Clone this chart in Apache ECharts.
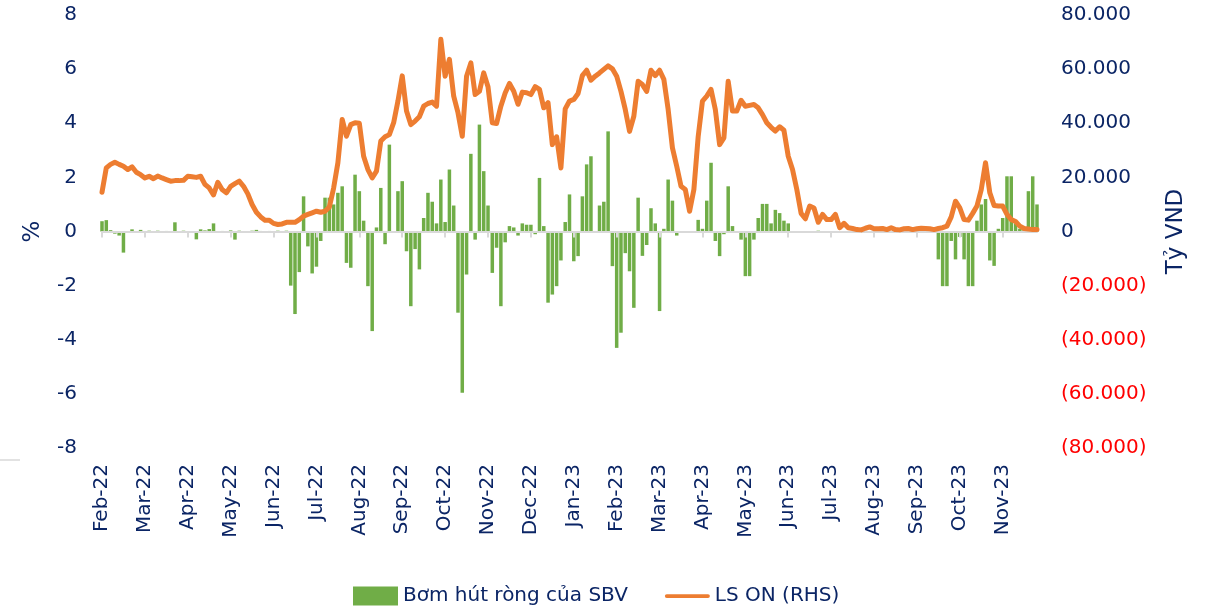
<!DOCTYPE html>
<html>
<head>
<meta charset="utf-8">
<script src="https://cdn.jsdelivr.net/npm/echarts@6/dist/echarts.min.js"></script>
<style>
  html, body { margin: 0; padding: 0; background: #ffffff; }
  #chart { width: 1209px; height: 611px; }
</style>
</head>
<body>
<div id="chart"></div>
<script>
// Month tick labels; each month holds 10 observation slots on the category axis
const months = ['Feb-22', 'Mar-22', 'Apr-22', 'May-22', 'Jun-22', 'Jul-22', 'Aug-22', 'Sep-22', 'Oct-22', 'Nov-22', 'Dec-22',
                'Jan-23', 'Feb-23', 'Mar-23', 'Apr-23', 'May-23', 'Jun-23', 'Jul-23', 'Aug-23', 'Sep-23', 'Oct-23', 'Nov-23'];
const slotsPerMonth = 10;

// Overnight interbank rate, %
const lsOn = [
  1.45, 2.35, 2.48, 2.56, 2.48, 2.41, 2.29, 2.39, 2.19, 2.10,
  1.98, 2.04, 1.95, 2.05, 1.98, 1.92, 1.86, 1.88, 1.88, 1.89,
  2.04, 2.02, 2.00, 2.04, 1.74, 1.61, 1.35, 1.82, 1.55, 1.43,
  1.67, 1.77, 1.86, 1.67, 1.39, 1.00, 0.71, 0.54, 0.42, 0.42,
  0.30, 0.26, 0.28, 0.34, 0.34, 0.34, 0.44, 0.57, 0.63, 0.69,
  0.75, 0.71, 0.75, 0.90, 1.60, 2.54, 4.14, 3.52, 3.95, 4.02,
  4.00, 2.78, 2.29, 1.98, 2.23, 3.34, 3.50, 3.58, 4.02, 4.82,
  5.75, 4.45, 3.95, 4.08, 4.24, 4.63, 4.73, 4.78, 4.63, 7.10,
  5.74, 6.36, 5.00, 4.39, 3.52, 5.74, 6.23, 5.06, 5.18, 5.86,
  5.35, 4.02, 3.99, 4.63, 5.12, 5.47, 5.18, 4.70, 5.15, 5.13,
  5.06, 5.35, 5.25, 4.57, 4.76, 3.21, 3.50, 2.35, 4.53, 4.82,
  4.88, 5.10, 5.76, 5.96, 5.59, 5.74, 5.86, 5.99, 6.12, 6.01,
  5.74, 5.18, 4.51, 3.70, 4.26, 5.55, 5.43, 5.18, 5.96, 5.76,
  5.96, 5.62, 4.51, 3.09, 2.41, 1.67, 1.55, 0.75, 1.55, 3.50,
  4.82, 5.00, 5.25, 4.51, 3.21, 3.46, 5.55, 4.45, 4.45, 4.85,
  4.63, 4.66, 4.69, 4.57, 4.32, 4.02, 3.85, 3.71, 3.87, 3.74,
  2.78, 2.29, 1.55, 0.67, 0.47, 0.94, 0.87, 0.34, 0.63, 0.44,
  0.44, 0.63, 0.14, 0.30, 0.14, 0.11, 0.07, 0.06, 0.12, 0.17,
  0.10, 0.10, 0.11, 0.07, 0.14, 0.07, 0.06, 0.10, 0.11, 0.07,
  0.10, 0.12, 0.11, 0.10, 0.07, 0.11, 0.14, 0.20, 0.54, 1.12,
  0.87, 0.44, 0.42, 0.67, 0.94, 1.55, 2.54, 1.43, 0.96, 0.94,
  0.94, 0.63, 0.44, 0.37, 0.20, 0.11, 0.09, 0.07, 0.07
];

// Net injection (+) / withdrawal (-) by the SBV, billion VND
const netInjection = [
  3800, 4200, 500, -800, -1500, -7800, -500, 800, 0, 600,
  -400, 300, 0, 300, -500, 200, 0, 3400, 0, 300,
  -300, -300, -2900, 800, 400, 900, 3000, 0, 200, -300,
  400, -3000, 300, 0, -200, 300, 600, 200, -300, 200,
  0, 300, -200, 300, -20000, -30500, -15000, 13000, -5500, -15500,
  -13000, -3500, 12500, 12500, 10000, 14300, 16700, -11600, -13400, 21000,
  14900, 4000, -20200, -36800, 1500, 16100, -4700, 32100, 0, 14900,
  18600, -7300, -27600, -6500, -14000, 5000, 14300, 11000, 3000, 19200,
  3500, 22900, 9600, -30000, -59600, -15900, 28700, -3000, 39500, 22300,
  9600, -15300, -6000, -27600, -4000, 2000, 1500, -1500, 3000, 2500,
  2500, -1000, 19800, 2000, -26300, -23300, -20200, -10700, 3500, 13700,
  -11000, -9100, 13000, 24800, 27800, 0, 9600, 11000, 37000, -12800,
  -43000, -37400, -8000, -14700, -28200, 12500, -9000, -5000, 8600, 3000,
  -29400, 1000, 19200, 11400, -1500, 0, 0, 0, 0, 4300,
  1000, 11400, 25400, -3500, -9100, -1000, 16700, 2000, 0, -3000,
  -16500, -16500, -3000, 5000, 10200, 10200, 3000, 8000, 6800, 4000,
  3000, 0, 0, 0, 0, 0, 0, 300, 0, 0,
  0, 0, 0, 0, 0, 0, 0, 0, 0, 0,
  0, 0, 0, 0, 0, 0, 0, 0, 0, 0,
  0, 0, 0, 0, 0, -10300, -20200, -20200, -3500, -10300,
  -2000, -10300, -20200, -20200, 4000, 10000, 12000, -10700, -12700, 1000,
  5000, 20400, 20400, 3000, 1000, 1000, 14900, 20400, 10000
];

const categories = lsOn.map((_, i) => {
  const m = Math.floor(i / slotsPerMonth);
  const k = i % slotsPerMonth;
  return k === 0 ? months[m] : months[m] + ' #' + (k + 1);
});

const NAVY = '#0B2565';
const FONT = 'DejaVu Sans';
const isMonthStart = (idx) => idx % slotsPerMonth === 0;

function fmtThousands(v) {
  return Math.abs(v).toString().replace(/\B(?=(\d{3})+(?!\d))/g, '.');
}

const chart = echarts.init(document.getElementById('chart'), null, { renderer: 'canvas' });

chart.setOption({
  backgroundColor: '#ffffff',
  animation: false,
  textStyle: { fontFamily: FONT },
  grid: { left: 102, right: 172, top: 15, bottom: 163, containLabel: false, outerBoundsMode: 'none' },
  legend: {
    left: 348,
    top: 581,
    itemWidth: 45,
    itemHeight: 19,
    itemGap: 37,
    textStyle: { fontFamily: FONT, fontSize: 20, color: NAVY },
    data: [
      { name: 'Bơm hút ròng của SBV', icon: 'rect' },
      { name: 'LS ON (RHS)', icon: 'path://M2,0 L46,0 A2,2 0 0 1 46,4 L2,4 A2,2 0 0 1 2,0 Z' }
    ]
  },
  xAxis: [
    {
      // zero line with monthly ticks
      type: 'category',
      data: categories,
      boundaryGap: false,
      position: 'bottom',
      z: 3,
      axisLine: { show: true, onZero: true, lineStyle: { color: '#D9D9D9', width: 2 } },
      axisTick: { show: true, interval: (idx) => isMonthStart(idx), length: 6, lineStyle: { color: '#D9D9D9', width: 2 } },
      axisLabel: { show: false },
      splitLine: { show: false }
    },
    {
      // month labels along the bottom edge
      type: 'category',
      data: categories,
      boundaryGap: false,
      position: 'bottom',
      axisLine: { show: false, onZero: false },
      axisTick: { show: false },
      splitLine: { show: false },
      axisLabel: {
        show: true,
        rotate: 90,
        margin: 16,
        interval: (idx) => isMonthStart(idx),
        fontFamily: FONT,
        fontSize: 20,
        color: NAVY
      }
    }
  ],
  yAxis: [
    {
      type: 'value',
      min: -8,
      max: 8,
      interval: 2,
      position: 'left',
      name: '%',
      nameLocation: 'middle',
      nameRotate: 90,
      nameGap: 57,
      nameMoveOverlap: false,
      nameTextStyle: { fontFamily: FONT, fontSize: 23, color: NAVY },
      axisLine: { show: false },
      axisTick: { show: false },
      splitLine: { show: false },
      axisLabel: { margin: 25, fontFamily: FONT, fontSize: 20, color: NAVY }
    },
    {
      type: 'value',
      min: -80000,
      max: 80000,
      interval: 20000,
      position: 'right',
      name: 'Tỷ VND',
      nameLocation: 'middle',
      nameRotate: 90,
      nameGap: 128,
      nameMoveOverlap: false,
      nameTextStyle: { fontFamily: FONT, fontSize: 23, color: NAVY },
      axisLine: { show: false },
      axisTick: { show: false },
      splitLine: { show: false },
      axisLabel: {
        margin: 24,
        fontFamily: FONT,
        fontSize: 20,
        color: (v) => (Number(v) < 0 ? '#FF0000' : NAVY),
        formatter: (v) => (v < 0 ? '(' + fmtThousands(v) + ')' : fmtThousands(v))
      }
    }
  ],
  series: [
    {
      name: 'Bơm hút ròng của SBV',
      type: 'bar',
      xAxisIndex: 0,
      yAxisIndex: 1,
      data: netInjection,
      barWidth: 3.5,
      itemStyle: { color: '#70AD47' },
      z: 2
    },
    {
      name: 'LS ON (RHS)',
      type: 'line',
      xAxisIndex: 0,
      yAxisIndex: 0,
      data: lsOn,
      symbol: 'none',
      smooth: false,
      lineStyle: { color: '#ED7D31', width: 5, join: 'round', cap: 'round' },
      itemStyle: { color: '#ED7D31' },
      z: 5
    }
  ],
  graphic: [
    { type: 'line', shape: { x1: 0, y1: 460, x2: 20, y2: 460 }, style: { stroke: '#D9D9D9', lineWidth: 1.5 } }
  ]
});
</script>
</body>
</html>
